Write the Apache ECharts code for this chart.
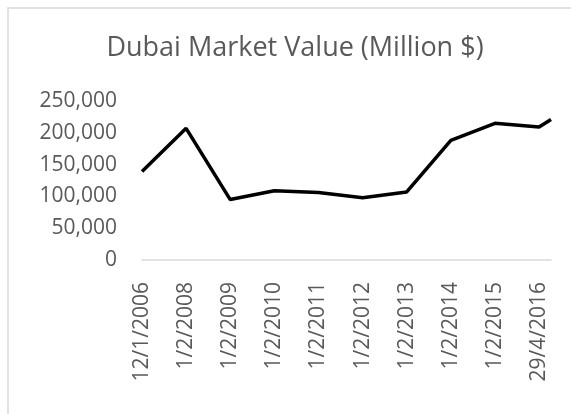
<!DOCTYPE html>
<html>
<head>
<meta charset="utf-8">
<script src="https://cdn.jsdelivr.net/npm/echarts@6/dist/echarts.min.js"></script>
<style>
  html, body { margin: 0; padding: 0; background: #fff; }
  #chart { width: 571px; height: 414px; }
</style>
</head>
<body>
<div id="chart"></div>
<script>
// tick labels on the x axis (one per data row, the last row has no label)
const dateLabels = ['12/1/2006', '1/2/2008', '1/2/2009', '1/2/2010', '1/2/2011',
  '1/2/2012', '1/2/2013', '1/2/2014', '1/2/2015', '29/4/2016'];
// where each point sits along the x axis (in label steps)
const xPositions = [0, 1, 2, 3, 4, 5, 6, 7, 8, 9, 9.27];
// market value, million $
const marketValue = [139000, 207000, 95000, 109000, 106000, 98000, 107000,
  188000, 215000, 209000, 221000];

const yTicks = [0, 50000, 100000, 150000, 200000, 250000];

const font = '"Open Sans", "Liberation Sans", sans-serif';
const chart = echarts.init(document.getElementById('chart'));

chart.setOption({
  animation: false,
  backgroundColor: '#ffffff',
  title: {
    text: 'Dubai Market Value (Million $)',
    left: 290,
    textAlign: 'center',
    top: 30,
    textStyle: { fontFamily: font, fontSize: 27, fontWeight: 'normal', color: '#595959' }
  },
  graphic: [{
    type: 'rect',
    shape: { x: 8, y: 8, width: 700, height: 500 },
    style: { fill: 'none', stroke: '#d9d9d9', lineWidth: 1.5 },
    silent: true
  }],
  grid: { left: 142, right: 20, top: 101, bottom: 154 },
  xAxis: {
    type: 'value',
    min: 0,
    max: xPositions[xPositions.length - 1],
    interval: 1,
    axisLine: { show: true, lineStyle: { color: '#d9d9d9', width: 1.5 } },
    axisTick: { show: false },
    splitLine: { show: false },
    axisLabel: {
      rotate: 90,
      margin: 22,
      showMaxLabel: false,
      fontFamily: font,
      fontSize: 21,
      color: '#595959',
      formatter: v => (Number.isInteger(v) && dateLabels[v]) ? dateLabels[v] : ''
    }
  },
  yAxis: {
    type: 'value',
    min: yTicks[0],
    max: yTicks[yTicks.length - 1],
    interval: yTicks[1] - yTicks[0],
    axisLine: { show: false },
    axisTick: { show: false },
    splitLine: { show: false },
    axisLabel: {
      margin: 25,
      fontFamily: font,
      fontSize: 21,
      color: '#595959',
      formatter: v => v.toLocaleString('en-US')
    }
  },
  series: [{
    type: 'line',
    data: xPositions.map((x, i) => [x, marketValue[i]]),
    symbol: 'none',
    lineStyle: { color: '#000000', width: 3.5 },
    z: 3
  }]
});
</script>
</body>
</html>
